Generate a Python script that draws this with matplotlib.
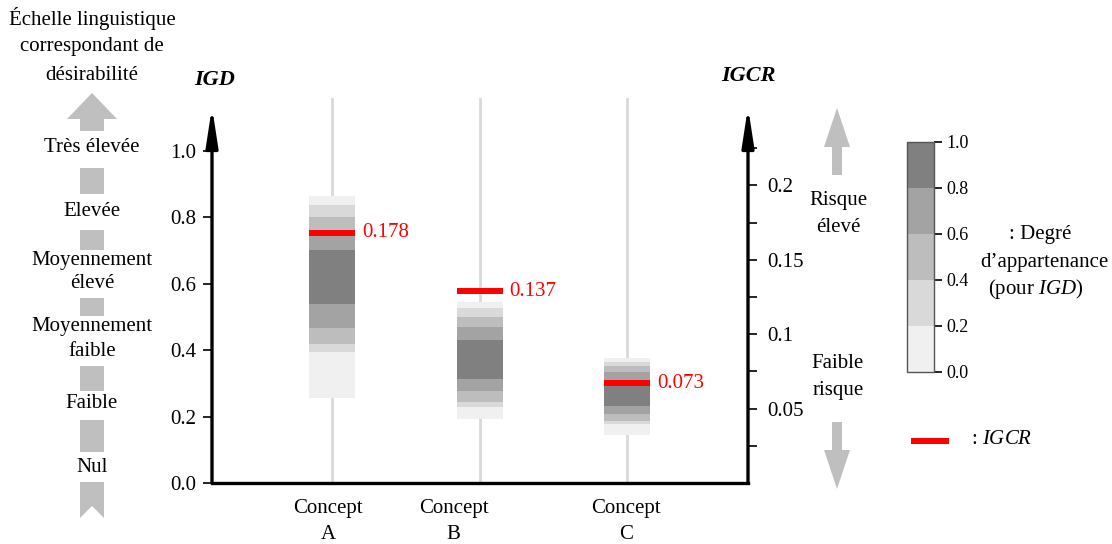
import matplotlib
matplotlib.use('Agg')
import matplotlib.pyplot as plt
import matplotlib.ticker as mticker
from matplotlib.colors import ListedColormap, BoundaryNorm
from matplotlib.cm import ScalarMappable
from matplotlib.patches import Polygon, Rectangle

plt.rcParams['font.family'] = ['Liberation Serif', 'DejaVu Serif']
plt.rcParams['mathtext.fontset'] = 'custom'
plt.rcParams['mathtext.rm'] = 'Liberation Serif'
plt.rcParams['mathtext.it'] = 'Liberation Serif:italic'
plt.rcParams['mathtext.bf'] = 'Liberation Serif:bold:italic'

# ---------------- data ----------------
concepts = ['A', 'B', 'C']
concept_labels = ['Concept\nA', 'Concept\nB', 'Concept\nC']
membership_levels = [0.0, 0.2, 0.4, 0.6, 0.8]          # alpha-cut levels
# IGD interval at each alpha-cut (lower / upper bound)
igd_low_A = [0.256, 0.395, 0.419, 0.467, 0.539]
igd_high_A = [0.864, 0.837, 0.801, 0.756, 0.702]
igd_low_B = [0.194, 0.229, 0.244, 0.277, 0.313]
igd_high_B = [0.544, 0.527, 0.500, 0.470, 0.431]
igd_low_C = [0.145, 0.178, 0.186, 0.208, 0.232]
igd_high_C = [0.377, 0.364, 0.353, 0.334, 0.304]
igcr_values = [0.178, 0.137, 0.073]
igcr_text = ['0.178', '0.137', '0.073']
igd_ticks = [0.0, 0.2, 0.4, 0.6, 0.8, 1.0]
igcr_ticks = [0.05, 0.1, 0.15, 0.2]
igcr_tick_labels = ['0.05', '0.1', '0.15', '0.2']
igcr_minor_ticks = [0.025, 0.075, 0.125, 0.175, 0.225]
cbar_ticks = [0.0, 0.2, 0.4, 0.6, 0.8, 1.0]
scale_terms = ['Très élevée', 'Elevée', 'Moyennement\nélevé', 'Moyennement\nfaible', 'Faible', 'Nul']

lows = [igd_low_A, igd_low_B, igd_low_C]
highs = [igd_high_A, igd_high_B, igd_high_C]

# ---------------- style ----------------
level_colors = ['#f0f0f0', '#d9d9d9', '#bdbdbd', '#a3a3a3', '#808080']
arrow_grey = '#bfbfbf'
FS = 15

W, H = 1112, 544
fig = plt.figure(figsize=(W / 100, H / 100), dpi=100)

# overlay axes in pixel coordinates for the annotation graphics
ov = fig.add_axes([0, 0, 1, 1])
ov.set_xlim(0, W)
ov.set_ylim(H, 0)
ov.axis('off')

def fx(px):
    return px / W

def fy(py):
    return (H - py) / H

# main axes
x0, x1, yb, yt = 212, 748, 483, 107
ax = fig.add_axes([fx(x0), fy(yb), fx(x1) - fx(x0), fy(yt) - fy(yb)])
ax.patch.set_alpha(0)
positions = [0, 1, 2]
label_offsets = [-0.027, -0.176, -0.007]
bar_w = 0.312
ax.set_xlim(-0.814, 2.82)
ax.set_ylim(0, 1.1325)

for i, pos in enumerate(positions):
    ax.plot([pos, pos], [0, 1.02], transform=ax.get_xaxis_transform(),
            color='#d9d9d9', lw=2.0, zorder=1, clip_on=False)
    for k in range(len(membership_levels)):
        lo, hi = lows[i][k], highs[i][k]
        ax.bar(pos, hi - lo, bottom=lo, width=bar_w, color=level_colors[k],
               edgecolor='none', zorder=2)

for sp in ['top', 'left', 'right']:
    ax.spines[sp].set_visible(False)
ax.spines['bottom'].set_linewidth(2.4)
ax.set_yticks(igd_ticks)
ax.set_yticklabels([f'{t:.1f}' for t in igd_ticks])
ax.tick_params(axis='y', direction='out', length=6.5, width=1.2, labelsize=FS, pad=5)
ax.set_xticks([])
for pos, off, lab in zip(positions, label_offsets, concept_labels):
    l1, l2 = lab.split('\n')
    ax.text(pos + off, -0.068, l1, transform=ax.get_xaxis_transform(),
            ha='center', va='center', fontsize=FS)
    ax.text(pos + off, -0.136, l2, transform=ax.get_xaxis_transform(),
            ha='center', va='center', fontsize=FS)

arrow_style = '-|>,head_length=1.3,head_width=0.2'
for xa in (0, 1):
    ax.annotate('', xy=(xa, 1), xytext=(xa, 0), xycoords='axes fraction',
                arrowprops=dict(arrowstyle=arrow_style, lw=2.4, color='black',
                                mutation_scale=18, shrinkA=0, shrinkB=0),
                annotation_clip=False)

# right (IGCR) axis with ticks
ax_r = ax.twinx()
ax_r.set_ylim(0, 0.2527)
for sp in ax_r.spines.values():
    sp.set_visible(False)
ax_r.yaxis.set_major_locator(mticker.FixedLocator(igcr_ticks))
ax_r.yaxis.set_major_formatter(mticker.FixedFormatter(igcr_tick_labels))
ax_r.yaxis.set_minor_locator(mticker.FixedLocator(igcr_minor_ticks))
ax_r.tick_params(axis='y', which='both', direction='out', length=6.5, width=1.2,
                 labelsize=FS, pad=7)

# IGCR marks (scale as drawn in the original figure)
ax_red = ax.twinx()
ax_red.set_ylim(0.00328, 0.26574)
ax_red.axis('off')
for pos, v, t in zip(positions, igcr_values, igcr_text):
    ax_red.hlines(v, pos - bar_w / 2, pos + bar_w / 2, color='red', lw=4.3,
                  capstyle='butt', zorder=5)
    ax_red.annotate(t, xy=(pos + bar_w / 2, v), xytext=(5, 0), textcoords='offset points',
                    color='red', fontsize=FS, ha='left', va='center')

# axis titles
ov.text(215, 80, 'IGD', fontsize=16, fontweight='bold', style='italic', ha='center', va='center')
ov.text(748, 76, 'IGCR', fontsize=16, fontweight='bold', style='italic', ha='center', va='center')

# left linguistic scale
cx = 92
for yy, s in zip([18, 47, 76], ['Échelle linguistique', 'correspondant de', 'désirabilité']):
    ov.text(cx, yy, s, ha='center', va='center', fontsize=FS)
term_y = [[147], [212], [260, 284], [327, 352], [404], [467]]
for term, ys in zip(scale_terms, term_y):
    for line, yy in zip(term.split('\n'), ys):
        ov.text(cx, yy, line, ha='center', va='center', fontsize=FS)
ov.add_patch(Polygon([[67, 119], [92, 93], [117, 119]], closed=True, color=arrow_grey, lw=0))
for ya, yb2 in [(119, 131), (168, 194), (230, 250), (298, 316), (366, 391), (420, 452)]:
    ov.add_patch(Rectangle((80, ya), 24, yb2 - ya, color=arrow_grey, lw=0))
ov.add_patch(Polygon([[80, 482], [104, 482], [104, 518], [92, 506], [80, 518]],
                     closed=True, color=arrow_grey, lw=0))

# right risk arrows and texts
ov.add_patch(Polygon([[824, 147], [837, 108], [850, 147]], closed=True, color=arrow_grey, lw=0))
ov.add_patch(Rectangle((832, 147), 10, 28, color=arrow_grey, lw=0))
ov.add_patch(Rectangle((832, 422), 10, 28, color=arrow_grey, lw=0))
ov.add_patch(Polygon([[824, 450], [837, 489], [850, 450]], closed=True, color=arrow_grey, lw=0))
ov.text(838, 200, 'Risque', ha='center', va='center', fontsize=FS)
ov.text(838, 227, 'élevé', ha='center', va='center', fontsize=FS)
ov.text(838, 364, 'Faible', ha='center', va='center', fontsize=FS)
ov.text(838, 391, 'risque', ha='center', va='center', fontsize=FS)

# colorbar of membership degree
cax = fig.add_axes([fx(907), fy(372), fx(934) - fx(907), fy(142) - fy(372)])
cmap = ListedColormap(level_colors)
norm = BoundaryNorm([0, 0.2, 0.4, 0.6, 0.8, 1.0], cmap.N)
cb = fig.colorbar(ScalarMappable(norm=norm, cmap=cmap), cax=cax, ticks=cbar_ticks)
cb.ax.set_yticklabels([f'{t:.1f}' for t in cbar_ticks])
cb.ax.tick_params(labelsize=13, length=6, width=1.2, direction='out', pad=3)
cb.outline.set_edgecolor('#555555')
cb.outline.set_linewidth(1.0)
ov.text(1040, 235, ': Degré', ha='center', va='center', fontsize=FS)
ov.text(1044, 262, 'd\u2019appartenance', ha='center', va='center', fontsize=FS)
ov.text(1036, 289, r'(pour $\mathit{IGD}$)', ha='center', va='center', fontsize=FS)

# legend for IGCR mark
ov.plot([911, 949], [441, 441], color='red', lw=4.3, solid_capstyle='butt')
ov.text(971, 439, r': $\mathit{IGCR}$', ha='left', va='center', fontsize=FS)

fig.savefig('out.png', dpi=100)
